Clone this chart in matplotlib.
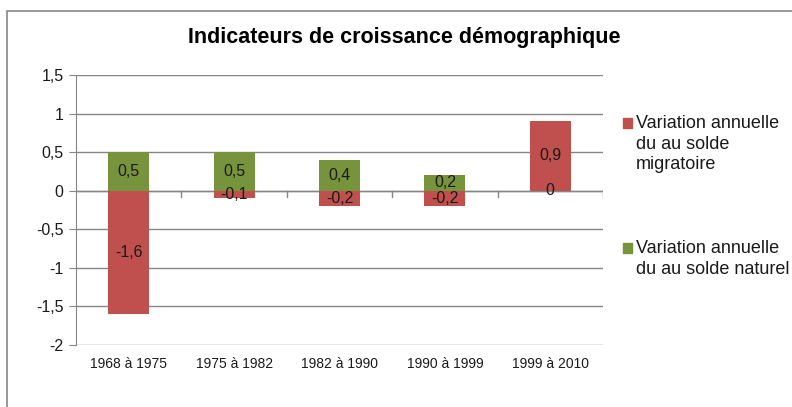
import matplotlib
matplotlib.use("Agg")
import matplotlib.pyplot as plt
from matplotlib.patches import Rectangle
import numpy as np

periodes = ["1968 à 1975", "1975 à 1982", "1982 à 1990", "1990 à 1999", "1999 à 2010"]
solde_naturel = [0.5, 0.5, 0.4, 0.2, 0.0]
solde_migratoire = [-1.6, -0.1, -0.2, -0.2, 0.9]
yticks = [-2, -1.5, -1, -0.5, 0, 0.5, 1, 1.5]
legende = ["Variation annuelle\ndu au solde\nmigratoire",
           "Variation annuelle\ndu au solde naturel"]

ROUGE = "#C0504D"
VERT = "#77933C"
GRIS = "#868686"

plt.rcParams["font.family"] = ["Liberation Sans", "DejaVu Sans"]

W, H = 792, 407
fig = plt.figure(figsize=(W / 100, H / 100), dpi=100)
# plot area in pixels: x 76..603, y 75..345
ax = fig.add_axes([76 / W, 1 - 345 / H, (603 - 76) / W, (345 - 75) / H])

# chart border (cut at right and bottom like the screenshot)
fig.patches.append(Rectangle((7 / W, -0.05), 1.1, 1 - 11 / H + 0.05,
                             transform=fig.transFigure, fill=False,
                             edgecolor=GRIS, linewidth=1.2))

x = np.arange(len(periodes))
larg = 0.39

# naturel stacked first, migratoire on top; negatives start from 0
nat_bas = [0] * len(solde_naturel)
mig_bas = [0 if m < 0 else max(n, 0) for m, n in zip(solde_migratoire, solde_naturel)]

ax.bar(x, solde_naturel, larg, bottom=nat_bas, color=VERT, zorder=3)
ax.bar(x, solde_migratoire, larg, bottom=mig_bas, color=ROUGE, zorder=3)

def fmt(v):
    s = ("%.1f" % v).replace(".", ",")
    if s.endswith(",0"):
        s = s[:-2]
    if s == "-0":
        s = "0"
    return s

for i in range(len(periodes)):
    n = solde_naturel[i]
    m = solde_migratoire[i]
    ax.text(x[i], nat_bas[i] + n / 2, fmt(n), ha="center", va="center",
            fontsize=11.5, color="#1a1a1a", zorder=4)
    ax.text(x[i], mig_bas[i] + m / 2, fmt(m), ha="center", va="center",
            fontsize=11.5, color="#1a1a1a", zorder=4)

ax.set_xlim(-0.5, len(periodes) - 0.5)
ax.set_ylim(-2, 1.5)
ax.set_yticks(yticks)
ax.set_yticklabels([fmt(v) for v in yticks], fontsize=11.5, color="#1a1a1a")
ax.yaxis.grid(True, color=GRIS, linewidth=1.0, zorder=0)
ax.set_axisbelow(True)

for s in ["top", "right", "bottom"]:
    ax.spines[s].set_visible(False)
ax.spines["left"].set_color(GRIS)
ax.tick_params(axis="y", length=5, color=GRIS, pad=4)

# category axis at zero with ticks between categories
ax.axhline(0, color=GRIS, linewidth=1.0, zorder=2)
for b in np.arange(0.5, len(periodes), 1.0):
    ax.plot([b, b], [0, -0.08], color=GRIS, linewidth=1.0, zorder=2)

ax.set_xticks(x)
ax.set_xticklabels(periodes, fontsize=10, color="#1a1a1a")
ax.tick_params(axis="x", length=0, pad=9)

fig.text(404 / W, 1 - 38 / H, "Indicateurs de croissance démographique",
         ha="center", va="center", fontsize=15.5, fontweight="bold")

# legend drawn by hand: square aligned with first line, like Excel
for (y_px, couleur, txt) in [(123, ROUGE, legende[0]), (248, VERT, legende[1])]:
    fig.patches.append(Rectangle((623 / W, 1 - (y_px + 5) / H), 9 / W, 10 / H,
                                 transform=fig.transFigure, color=couleur))
    fig.text(636 / W, 1 - (y_px - 8) / H, txt, ha="left", va="top",
             fontsize=13, linespacing=1.28, color="#1a1a1a")

fig.savefig("out.png", dpi=100)
